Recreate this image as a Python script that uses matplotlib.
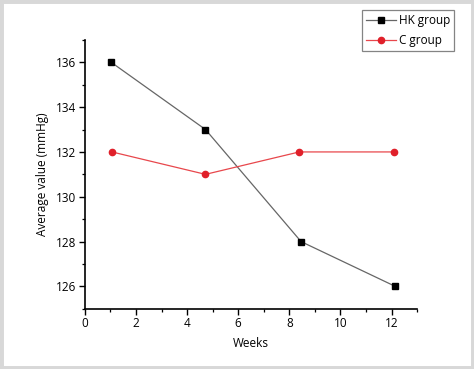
import matplotlib.pyplot as plt
from matplotlib.patches import Rectangle
from matplotlib.ticker import MultipleLocator

plt.rcParams['font.family'] = ['Open Sans', 'DejaVu Sans']

weeks_hk = [1.03, 4.72, 8.46, 12.15]
hk_vals = [136, 133, 128, 126]
weeks_c = [1.06, 4.72, 8.39, 12.1]
c_vals = [132, 131, 132, 132]

fig = plt.figure(figsize=(4.74, 3.69), dpi=100)
ax = fig.add_axes([0.179, 0.163, 0.701, 0.729])

ax.plot(weeks_hk, hk_vals, color='#666666', lw=0.9, marker='s', ms=4.5,
        mfc='black', mec='black', label='HK group')
ax.plot(weeks_c, c_vals, color='#e8474c', lw=0.9, marker='o', ms=4.5,
        mfc='#e0202a', mec='#e0202a', label='C group')

ax.set_xlim(0, 13)
ax.set_ylim(125, 137)
ax.xaxis.set_major_locator(MultipleLocator(2))
ax.xaxis.set_minor_locator(MultipleLocator(1))
ax.yaxis.set_major_locator(MultipleLocator(2))
ax.yaxis.set_minor_locator(MultipleLocator(1))
ax.tick_params(which='major', direction='out', length=4, width=1.0,
               labelsize=8.5, pad=2)
ax.tick_params(which='minor', direction='out', length=2, width=0.9)
for s in ['top', 'right']:
    ax.spines[s].set_visible(False)
for s in ['left', 'bottom']:
    ax.spines[s].set_linewidth(1.2)

ax.set_xlabel('Weeks', fontsize=8.5, labelpad=5)
ax.set_ylabel('Average value (mmHg)', fontsize=8.5, labelpad=5)

leg = fig.legend(loc='upper right', bbox_to_anchor=(0.958, 0.972),
                 fontsize=8.5, frameon=True, fancybox=False,
                 borderpad=0.35, handlelength=2.6, handletextpad=0.2,
                 labelspacing=0.55, borderaxespad=0)
leg.get_frame().set_edgecolor('#666666')
leg.get_frame().set_linewidth(0.9)

fig.patches.append(Rectangle((0, 0), 1, 1, transform=fig.transFigure,
                             fill=False, edgecolor='#d8d8d8', lw=5))

fig.savefig('out.png', dpi=100)
